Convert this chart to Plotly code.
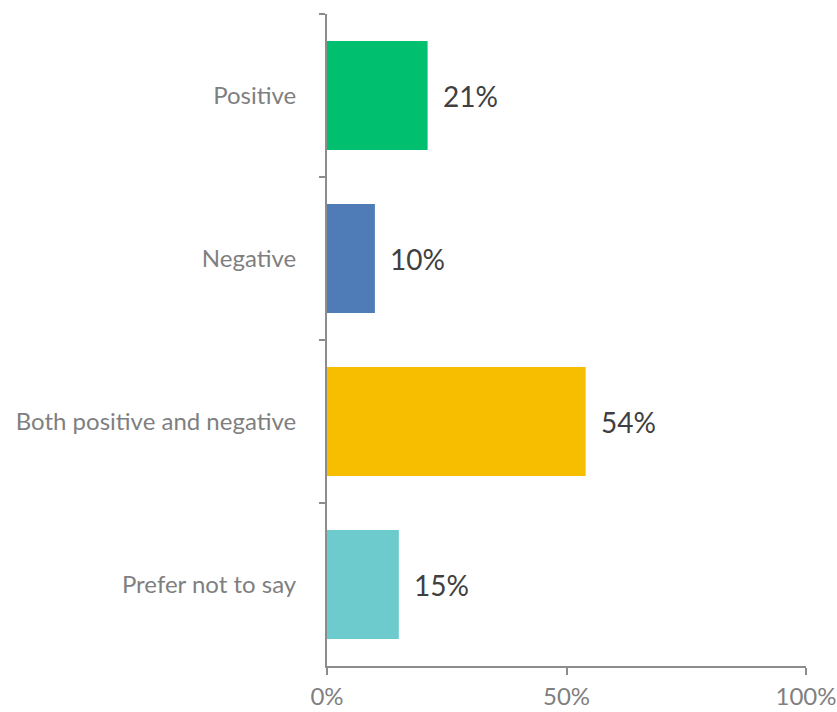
import plotly.graph_objects as go

categories = ["Positive", "Negative", "Both positive and negative", "Prefer not to say"]
values = [21, 10, 54, 15]
colors = ["#00BF6F", "#4F7CB7", "#F7BE00", "#6DCACD"]
x_ticks = [0, 50, 100]
x_tick_labels = ["0%", "50%", "100%"]

axis_grey = "#8C8C8C"
label_grey = "#7F7F7F"
font_family = "Lato, 'Open Sans', sans-serif"

fig = go.Figure(
    go.Bar(
        x=values,
        y=categories,
        orientation="h",
        marker=dict(color=colors, line=dict(width=0)),
        width=0.67,
        hoverinfo="skip",
    )
)

# value labels sitting just past the end of each bar
for cat, val in zip(categories, values):
    fig.add_annotation(
        x=val, y=cat, text=f"{val}%", showarrow=False,
        xanchor="left", xshift=13,
        font=dict(family=font_family, size=28, color="#404040"),
    )

fig.update_layout(
    width=837, height=712,
    margin=dict(l=327, r=31, t=14, b=46, autoexpand=False),
    paper_bgcolor="white", plot_bgcolor="white",
    showlegend=False,
    font=dict(family=font_family),
    xaxis=dict(
        range=[0, 100], tickvals=x_ticks, ticktext=x_tick_labels,
        showgrid=False, zeroline=False, automargin=False,
        showline=True, linecolor=axis_grey, linewidth=2,
        ticks="outside", ticklen=7, tickwidth=2, tickcolor=axis_grey,
        tickfont=dict(size=24, color=label_grey),
        ticklabelstandoff=1,
    ),
    yaxis=dict(
        autorange="reversed", automargin=False,
        showgrid=False, zeroline=False,
        showline=True, linecolor=axis_grey, linewidth=2,
        ticks="outside", tickson="boundaries", ticklen=6, tickwidth=2, tickcolor=axis_grey,
        tickfont=dict(size=24, color=label_grey),
        ticklabelstandoff=24,
    ),
)

fig.write_html("out.html")
